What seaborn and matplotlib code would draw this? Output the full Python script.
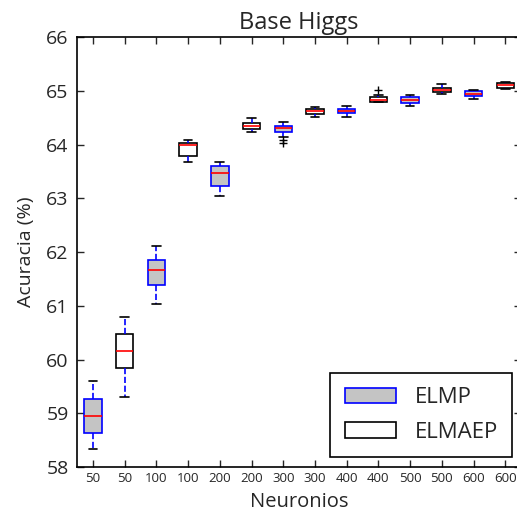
import pandas as pd
import numpy as np
import matplotlib
matplotlib.use('Agg')
import matplotlib.pyplot as plt
import matplotlib.patches as mpatches
import seaborn as sns

# ============ Data ============
neurons = ['50', '50', '100', '100', '200', '200', '300', '300',
           '400', '400', '500', '500', '600', '600']
models = ['ELMP', 'ELMAEP'] * 7

# five number summary of every box (whisker low, q1, median, q3, whisker high)
whisk_low = [58.33, 59.30, 61.03, 63.68, 63.04, 64.24, 64.15,
             64.52, 64.51, 64.79, 64.72, 64.95, 64.85, 65.03]
q1 = [58.64, 59.84, 61.39, 63.79, 63.23, 64.29, 64.23,
      64.56, 64.58, 64.80, 64.78, 64.98, 64.91, 65.05]
median = [58.96, 60.16, 61.66, 63.99, 63.48, 64.35, 64.30,
          64.62, 64.62, 64.83, 64.83, 65.01, 64.95, 65.10]
q3 = [59.27, 60.47, 61.86, 64.03, 63.61, 64.41, 64.35,
      64.66, 64.66, 64.88, 64.88, 65.06, 65.00, 65.15]
whisk_high = [59.61, 60.79, 62.11, 64.08, 63.68, 64.50, 64.42,
              64.70, 64.72, 64.92, 64.92, 65.12, 65.01, 65.17]

# outliers (box index, value)
flier_box = [6, 6, 9]
flier_val = [64.08, 64.03, 65.01]

# ============ Build long table ============
ids = [f'{i:02d}' for i in range(len(neurons))]
rows = []
for i in range(len(ids)):
    for v in [whisk_low[i], q1[i], median[i], q3[i], whisk_high[i]]:
        rows.append({'pos': ids[i], 'Modelo': models[i], 'Acuracia': v})
df = pd.DataFrame(rows)
fl = pd.DataFrame({'pos': [ids[i] for i in flier_box],
                   'Acuracia': flier_val})

# ============ Plot ============
sns.set_style('ticks')
plt.rcParams['font.family'] = ['Open Sans', 'DejaVu Sans']

fig = plt.figure(figsize=(5.17, 5.15), dpi=100)
ax = fig.add_axes([0.149, 0.093, 0.859, 0.835])

styles = {'ELMP': ('#c4c4c4', 'blue'), 'ELMAEP': ('white', 'black')}
for m, (fc, ec) in styles.items():
    sns.boxplot(data=df[df['Modelo'] == m], x='pos', y='Acuracia', order=ids,
                color=fc, linecolor=ec, linewidth=1.2, width=0.55, whis=10,
                saturation=1, ax=ax,
                medianprops=dict(color='red', linewidth=1.2),
                whiskerprops=dict(color='blue', linestyle='--', linewidth=1.2),
                capprops=dict(color='black', linewidth=1.2))

sns.scatterplot(data=fl, x='pos', y='Acuracia', marker='+', color='black',
                s=40, linewidth=1, ax=ax, zorder=5)

ax.set_xlim(-0.5, len(ids) - 0.5)
ax.set_ylim(58, 66)
ax.set_xticks(range(len(ids)))
ax.set_xticklabels(neurons, fontsize=9.5)
ax.tick_params(axis='y', labelsize=14, pad=6)
ax.tick_params(direction='in', top=True, right=True, length=5, width=1)
for s in ax.spines.values():
    s.set_linewidth(1.2)
    s.set_color('black')

ax.set_title('Base Higgs', fontsize=17, pad=6)
ax.set_xlabel('Neuronios', fontsize=14.5, labelpad=5)
ax.set_ylabel('Acuracia (%)', fontsize=14, labelpad=8)

handles = [mpatches.Patch(facecolor=styles[m][0], edgecolor=styles[m][1],
                          linewidth=1.2, label=m) for m in styles]
leg = ax.legend(handles=handles, loc='lower right', fontsize=16,
                fancybox=False, edgecolor='black', framealpha=1,
                bbox_to_anchor=(0.98, 0.023), borderaxespad=0,
                handlelength=2.3, labelspacing=0.6, borderpad=0.65,
                handletextpad=0.85)
leg.get_frame().set_linewidth(1.2)

fig.savefig('out.png', dpi=100)
